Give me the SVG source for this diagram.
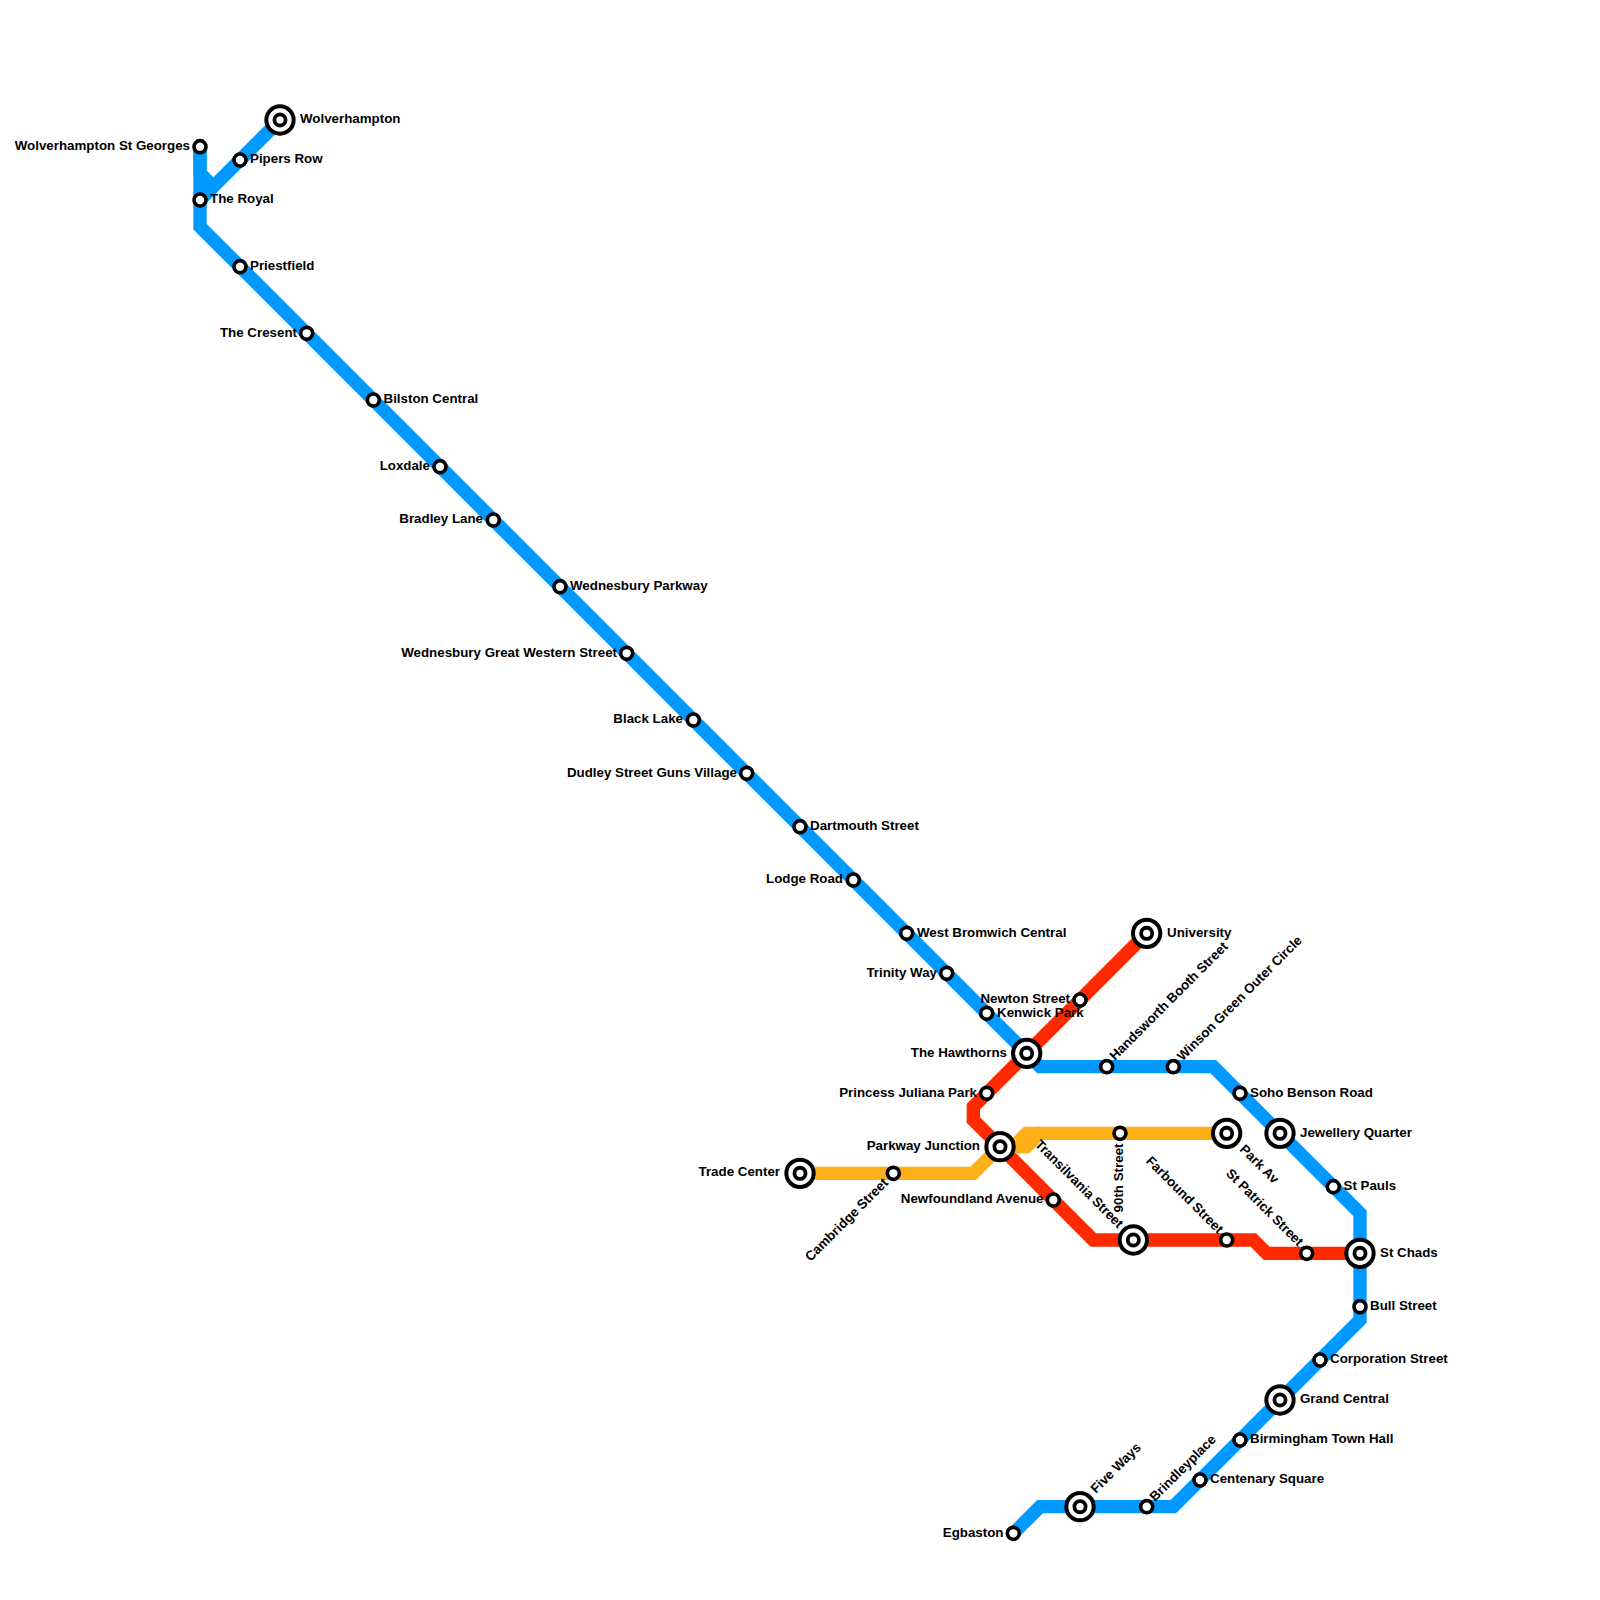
<svg xmlns="http://www.w3.org/2000/svg" width="1600" height="1600" viewBox="0 0 1600 1600">
<style>
.line{fill:none;stroke-width:13.33;stroke-linejoin:miter;stroke-linecap:butt}
.blue{stroke:#0099ff}.red{stroke:#ff2a00}.yellow{stroke:#fcaf17}
.s{fill:#fff;stroke:#000;stroke-width:3.6}
.i1{fill:#fff;stroke:#000;stroke-width:4}
.i2{fill:#fff;stroke:#000;stroke-width:3.8}
text{font-family:"Liberation Sans",Arial,sans-serif;font-size:13.33px;font-weight:bold;fill:#000}
.e{text-anchor:end}
</style>
<rect width="1600" height="1600" fill="#fff"/>
<g id="connectors">
<path class="line blue" d="M200 146.67V173.33L213.33 186.67L280 120"/>
<path class="line blue" d="M200 146.67V226.67L1040 1066.67H1213.33L1360 1213.33V1320L1173.33 1506.67H1040L1013.33 1533.33"/>
<path class="line blue" d="M213.33 186.67L200 200"/>
<path class="line red" d="M1146.67 933.33L973.33 1106.67V1120L1093.33 1240H1253.33L1266.67 1253.33H1360"/>
<path class="line yellow" d="M800 1173.33H973.33L1000 1146.67H1026.67L1040 1133.33H1226.67"/>
<path class="line yellow" d="M1000 1146.67H1013.33L1026.67 1133.33H1040"/>
</g>
<g id="st-wolverhampton"><circle class="i1" cx="280" cy="120" r="13.67"/><circle class="i2" cx="280" cy="120" r="5.6"/><text x="300" y="123">Wolverhampton</text></g>
<g id="st-wolverhampton-st-georges"><circle class="s" cx="200" cy="146.67" r="6"/><text class="e" x="190" y="150">Wolverhampton St Georges</text></g>
<g id="st-pipers-row"><circle class="s" cx="240" cy="160" r="6"/><text x="250" y="163">Pipers Row</text></g>
<g id="st-the-royal"><circle class="s" cx="200" cy="200" r="6"/><text x="210" y="203">The Royal</text></g>
<g id="st-priestfield"><circle class="s" cx="240" cy="266.67" r="6"/><text x="250" y="270">Priestfield</text></g>
<g id="st-the-cresent"><circle class="s" cx="306.67" cy="333.33" r="6"/><text class="e" x="297" y="336.5">The Cresent</text></g>
<g id="st-bilston-central"><circle class="s" cx="373.33" cy="400" r="6"/><text x="383.5" y="403">Bilston Central</text></g>
<g id="st-loxdale"><circle class="s" cx="440" cy="466.67" r="6"/><text class="e" x="430" y="470">Loxdale</text></g>
<g id="st-bradley-lane"><circle class="s" cx="493.33" cy="520" r="6"/><text class="e" x="483" y="523">Bradley Lane</text></g>
<g id="st-wednesbury-parkway"><circle class="s" cx="560" cy="586.67" r="6"/><text x="570" y="590">Wednesbury Parkway</text></g>
<g id="st-wednesbury-gws"><circle class="s" cx="626.67" cy="653.33" r="6"/><text class="e" x="617" y="656.5">Wednesbury Great Western Street</text></g>
<g id="st-black-lake"><circle class="s" cx="693.33" cy="720" r="6"/><text class="e" x="683" y="723">Black Lake</text></g>
<g id="st-dudley-street"><circle class="s" cx="746.67" cy="773.33" r="6"/><text class="e" x="737" y="776.5">Dudley Street Guns Village</text></g>
<g id="st-dartmouth-street"><circle class="s" cx="800" cy="826.67" r="6"/><text x="810" y="830">Dartmouth Street</text></g>
<g id="st-lodge-road"><circle class="s" cx="853.33" cy="880" r="6"/><text class="e" x="843" y="883">Lodge Road</text></g>
<g id="st-west-bromwich-central"><circle class="s" cx="906.67" cy="933.33" r="6"/><text x="917" y="936.5">West Bromwich Central</text></g>
<g id="st-trinity-way"><circle class="s" cx="946.67" cy="973.33" r="6"/><text class="e" x="937" y="976.5">Trinity Way</text></g>
<g id="st-kenwick-park"><circle class="s" cx="986.67" cy="1013.33" r="6"/><text x="997" y="1016.5">Kenwick Park</text></g>
<g id="st-newton-street"><circle class="s" cx="1080" cy="1000" r="6"/><text class="e" x="1070" y="1002.5">Newton Street</text></g>
<g id="st-university"><circle class="i1" cx="1146.67" cy="933.33" r="13.67"/><circle class="i2" cx="1146.67" cy="933.33" r="5.6"/><text x="1167" y="936.5">University</text></g>
<g id="st-the-hawthorns"><circle class="i1" cx="1026.67" cy="1053.33" r="13.67"/><circle class="i2" cx="1026.67" cy="1053.33" r="5.6"/><text class="e" x="1007" y="1056.5">The Hawthorns</text></g>
<g id="st-handsworth"><circle class="s" cx="1106.67" cy="1066.67" r="6"/><text transform="translate(1115 1061) rotate(-45)">Handsworth Booth Street</text></g>
<g id="st-winson-green"><circle class="s" cx="1173.33" cy="1066.67" r="6"/><text transform="translate(1182.5 1061.5) rotate(-45)">Winson Green Outer Circle</text></g>
<g id="st-soho-benson-road"><circle class="s" cx="1240" cy="1093.33" r="6"/><text x="1250" y="1096.5">Soho Benson Road</text></g>
<g id="st-princess-juliana-park"><circle class="s" cx="986.67" cy="1093.33" r="6"/><text class="e" x="977" y="1096.5">Princess Juliana Park</text></g>
<g id="st-jewellery-quarter"><circle class="i1" cx="1280" cy="1133.33" r="13.67"/><circle class="i2" cx="1280" cy="1133.33" r="5.6"/><text x="1300" y="1136.5">Jewellery Quarter</text></g>
<g id="st-park-av"><circle class="i1" cx="1226.67" cy="1133.33" r="13.67"/><circle class="i2" cx="1226.67" cy="1133.33" r="5.6"/><text transform="translate(1239 1150) rotate(45)">Park Av</text></g>
<g id="st-90th-street"><circle class="s" cx="1120" cy="1133.33" r="6"/><text class="e" transform="translate(1123 1143.5) rotate(-90)">90th Street</text></g>
<g id="st-parkway-junction"><circle class="i1" cx="1000" cy="1146.67" r="13.67"/><circle class="i2" cx="1000" cy="1146.67" r="5.6"/><text class="e" x="980" y="1149.5">Parkway Junction</text></g>
<g id="st-trade-center"><circle class="i1" cx="800" cy="1173.33" r="13.67"/><circle class="i2" cx="800" cy="1173.33" r="5.6"/><text class="e" x="780" y="1176">Trade Center</text></g>
<g id="st-cambridge-street"><circle class="s" cx="893.33" cy="1173.33" r="6"/><text class="e" transform="translate(889 1183.5) rotate(-45)">Cambridge Street</text></g>
<g id="st-st-pauls"><circle class="s" cx="1333.33" cy="1186.67" r="6"/><text x="1343.5" y="1190">St Pauls</text></g>
<g id="st-newfoundland-avenue"><circle class="s" cx="1053.33" cy="1200" r="6"/><text class="e" x="1043.5" y="1203">Newfoundland Avenue</text></g>
<g id="st-transilvania-street"><circle class="i1" cx="1133.33" cy="1240" r="13.67"/><circle class="i2" cx="1133.33" cy="1240" r="5.6"/><text class="e" transform="translate(1118 1229) rotate(45)">Transilvania Street</text></g>
<g id="st-farbound-street"><circle class="s" cx="1226.67" cy="1240" r="6"/><text class="e" transform="translate(1218 1234.5) rotate(45)">Farbound Street</text></g>
<g id="st-st-patrick-street"><circle class="s" cx="1306.67" cy="1253.33" r="6"/><text class="e" transform="translate(1298 1247) rotate(45)">St Patrick Street</text></g>
<g id="st-st-chads"><circle class="i1" cx="1360" cy="1253.33" r="13.67"/><circle class="i2" cx="1360" cy="1253.33" r="5.6"/><text x="1380" y="1256.5">St Chads</text></g>
<g id="st-bull-street"><circle class="s" cx="1360" cy="1306.67" r="6"/><text x="1370" y="1310">Bull Street</text></g>
<g id="st-corporation-street"><circle class="s" cx="1320" cy="1360" r="6"/><text x="1330" y="1363">Corporation Street</text></g>
<g id="st-grand-central"><circle class="i1" cx="1280" cy="1400" r="13.67"/><circle class="i2" cx="1280" cy="1400" r="5.6"/><text x="1300" y="1403">Grand Central</text></g>
<g id="st-birmingham-town-hall"><circle class="s" cx="1240" cy="1440" r="6"/><text x="1250" y="1443">Birmingham Town Hall</text></g>
<g id="st-centenary-square"><circle class="s" cx="1200" cy="1480" r="6"/><text x="1210" y="1483">Centenary Square</text></g>
<g id="st-brindleyplace"><circle class="s" cx="1146.67" cy="1506.67" r="6"/><text transform="translate(1155 1502) rotate(-45)">Brindleyplace</text></g>
<g id="st-five-ways"><circle class="i1" cx="1080" cy="1506.67" r="13.67"/><circle class="i2" cx="1080" cy="1506.67" r="5.6"/><text transform="translate(1096 1494) rotate(-45)">Five Ways</text></g>
<g id="st-egbaston"><circle class="s" cx="1013.33" cy="1533.33" r="6"/><text class="e" x="1003.5" y="1536.5">Egbaston</text></g>
</svg>
